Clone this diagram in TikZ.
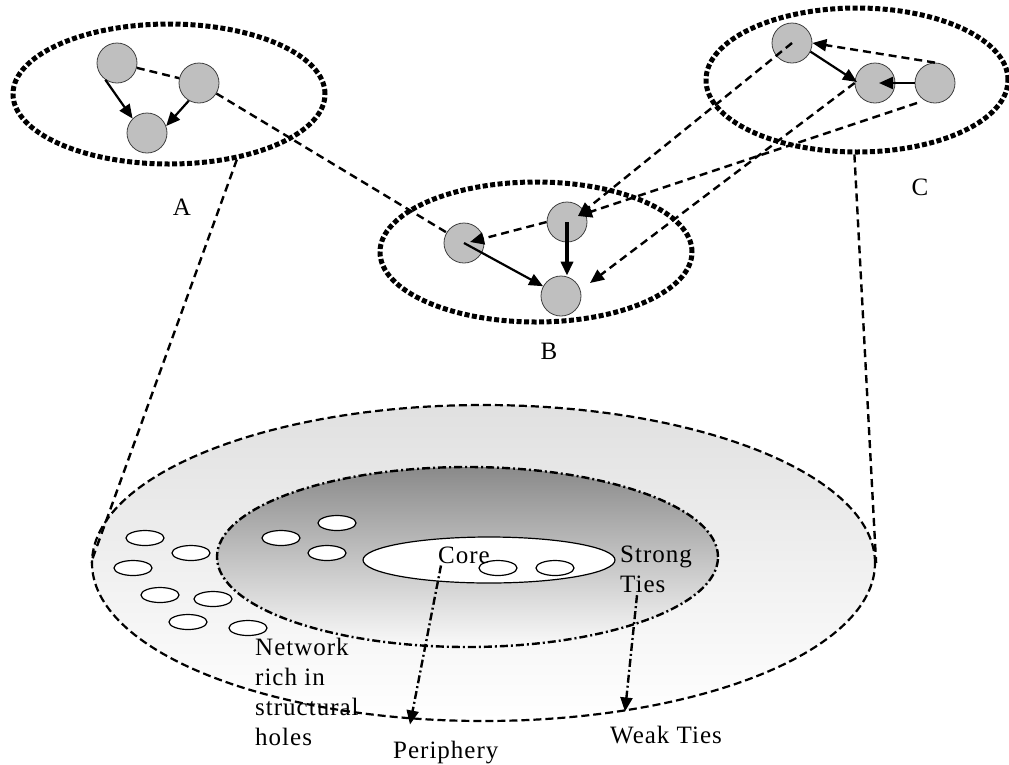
\documentclass[tikz,border=0pt]{standalone}
\usepackage{fontspec}
\setmainfont{Liberation Serif}[LetterSpace=4]
\usetikzlibrary{arrows.meta,shapes.geometric,calc}
\begin{document}
\begin{tikzpicture}[x=1pt,y=-1pt,
  agent/.style={circle,draw=black!75,line width=0.8pt,fill=black!25,minimum size=40pt,inner sep=0},
  group/.style={ellipse,draw,line width=5pt,dash pattern=on 5pt off 2.5pt,inner sep=0},
  tip/.style={-{Triangle[length=14pt,width=12pt]}},
  tie/.style={line width=2.2pt,tip},
  weak/.style={line width=2.4pt,dash pattern=on 8pt off 5pt},
  weakarr/.style={weak,tip},
  dashdot/.style={line width=2.4pt,dash pattern=on 8pt off 3pt on 2pt off 3pt},
  hole/.style={ellipse,draw,line width=1.2pt,fill=white,minimum width=38pt,minimum height=15pt,inner sep=0},
  lbl/.style={font=\fontsize{25}{30}\selectfont,inner sep=0}
]
\useasboundingbox (0,0) rectangle (1009,764);

% network levels
\node[ellipse,minimum width=783pt,minimum height=316pt,inner sep=0,draw,line width=2.2pt,
      dash pattern=on 8pt off 4pt,top color=black!12,bottom color=white] (outer) at (483.5,563) {};
\node[ellipse,minimum width=501pt,minimum height=180pt,inner sep=0,draw,dashdot,
      top color=black!46,bottom color=black!2] (inner) at (467.5,557) {};
\node[ellipse,minimum width=252pt,minimum height=46pt,inner sep=0,draw,line width=1.2pt,fill=white] (core) at (489,560) {};

% structural holes
\foreach \p [count=\i] in {(145,538),(191,553),(133,568),(160,595),(213,599),(188,622),(248,628),
                          (281,538),(337,523),(327,553),(498,568),(555,568)}
  \node[hole] (h\i) at \p {};

% groups
\node[group,minimum width=312pt,minimum height=140pt] (ellA) at (169,94) {};
\node[group,minimum width=312pt,minimum height=140pt] (ellB) at (536,252) {};
\node[group,minimum width=302pt,minimum height=144pt] (ellC) at (857,80) {};

\node[agent] (a1) at (117,63) {};
\node[agent] (a2) at (199,83) {};
\node[agent] (a3) at (147,133) {};
\node[agent] (b1) at (464,243) {};
\node[agent] (b2) at (567,222) {};
\node[agent] (b3) at (561,296) {};
\node[agent] (c1) at (792,43) {};
\node[agent] (c2) at (875,83) {};
\node[agent] (c3) at (935,83) {};

\node[lbl,anchor=base] (la) at (182,215) {A};
\node[lbl,anchor=base] (lb) at (549,359) {B};
\node[lbl,anchor=base] (lc) at (920,195) {C};

% ties inside groups
\draw[weak] (a1) -- (a2);
\draw[tie] (a1.-125) -- (a3.135);
\draw[tie] (a2.-120) -- (a3.20);
\draw[tie] (b1.center) -- (b3);
\draw[line width=3.4pt,tip] (b2.center) -- (b2.center |- b3.north);
\draw[weakarr] (b2.west) -- ([shift={(6,-1)}]b1.center);
\draw[weakarr] (c3.north) -- (c1.east);
\draw[tie] (c1.-25) -- ([shift={(-18,-1)}]c2.center);
\draw[tie] (c3.west) -- ([shift={(4,0)}]c2.center);

% ties between groups
\draw[weak] (a2) -- (b1);
\coordinate (b2in) at ([shift={(11,-6)}]b2.center);
\coordinate (b3in) at ([shift={(29,-13)}]b3.center);
\draw[weakarr] (c1.center) -- (b2in);
\draw[weakarr] ([shift={(-18,20)}]c3.center) -- (b2in);
\draw[weakarr] (c2.west) -- (b3in);

% projection lines
\draw[weak] (ellA.-44) -- (outer.west);
\draw[weak] (ellC.-92) -- (outer.east);

% labels on levels
\node[lbl,anchor=base west] (corelbl) at (438,563) {Core};
\node[lbl,anchor=north west,align=left] (strong) at (620,546) {Strong\\Ties};
\node[lbl,anchor=north west,align=left] (netw) at (255,638) {Network\\rich in\\structural\\holes};
\node[lbl,anchor=base west] (peri) at (393,758) {Periphery};
\node[lbl,anchor=base west] (weakl) at (610,743) {Weak Ties};

\draw[dashdot,tip] ([shift={(3,2)}]corelbl.south west) -- ([shift={(17,-16)}]peri.north west);
\draw[dashdot,tip] ([shift={(17,2)}]strong.south west) -- ([shift={(15,-14)}]weakl.north west);
\end{tikzpicture}
\end{document}
